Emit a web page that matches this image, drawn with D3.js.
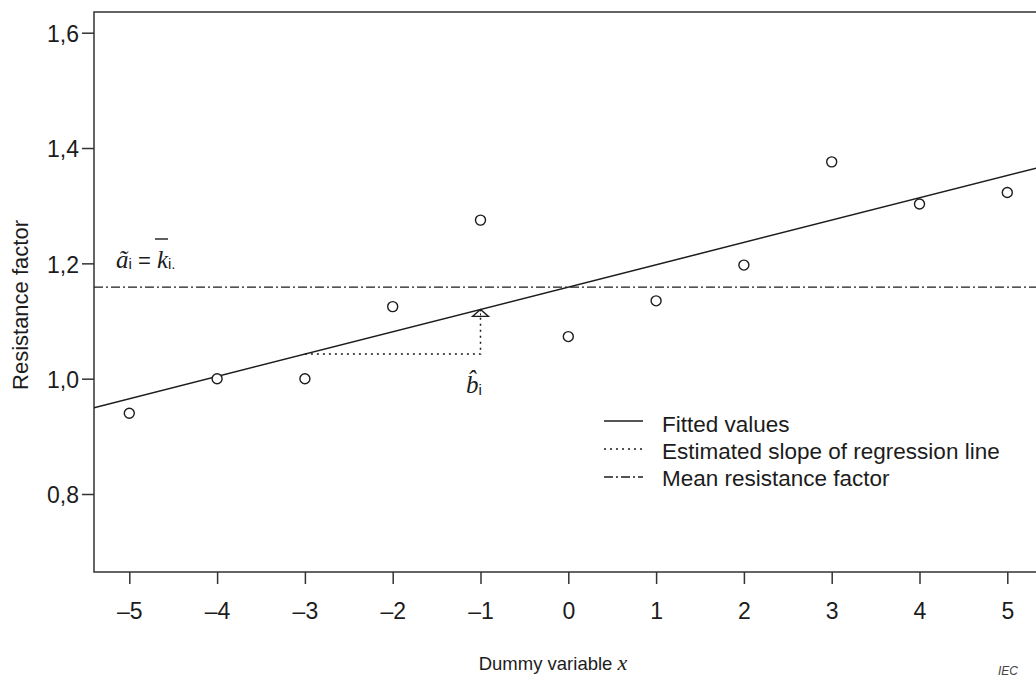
<!DOCTYPE html>
<html>
<head>
<meta charset="utf-8">
<script src="https://cdn.jsdelivr.net/npm/d3@7"></script>
<style>
  html, body { margin: 0; padding: 0; background: #fff; }
  svg { display: block; }
</style>
</head>
<body>
<svg id="chart" width="1036" height="677"></svg>
<script>
// ---- data ----
const xValues = [-5, -4, -3, -2, -1, 0, 1, 2, 3, 4, 5];
const resistanceFactor = [0.94, 1.00, 1.00, 1.125, 1.275, 1.073, 1.135, 1.197, 1.376, 1.303, 1.323];
const xTicks = [-5, -4, -3, -2, -1, 0, 1, 2, 3, 4, 5];
const yTicks = [0.8, 1.0, 1.2, 1.4, 1.6];
const slopeFrom = -3, slopeTo = -1;
const legendLabels = ["Fitted values", "Estimated slope of regression line", "Mean resistance factor"];
const xTitle = "Dummy variable ";
const yTitle = "Resistance factor";

// ---- derived: mean and least-squares line ----
const meanX = d3.mean(xValues), meanY = d3.mean(resistanceFactor);
const sxy = d3.sum(xValues, (x, i) => (x - meanX) * (resistanceFactor[i] - meanY));
const sxx = d3.sum(xValues, x => (x - meanX) ** 2);
const slope = sxy / sxx;
const intercept = meanY - slope * meanX;
const fit = x => intercept + slope * x;

// ---- layout ----
const svg = d3.select("#chart");
const plotLeft = 94, plotTop = 12, plotBottom = 572, plotRight = 1060;
const x = d3.scaleLinear().domain([-5, 5]).range([129.3, 1007.3]);
const y = d3.scaleLinear().domain([0.8, 1.6]).range([494, 32.7]);
const ink = "#1c1c1c";
const sans = "'Liberation Sans', Arial, Helvetica, sans-serif";
const serif = "'Liberation Serif', 'Times New Roman', serif";

svg.append("defs").append("clipPath").attr("id", "clip")
  .append("rect").attr("x", plotLeft).attr("y", plotTop)
  .attr("width", plotRight - plotLeft).attr("height", plotBottom - plotTop);

// frame
svg.append("path")
  .attr("d", `M${plotRight},${plotTop}H${plotLeft}V${plotBottom}H${plotRight}`)
  .attr("fill", "none").attr("stroke", "#333").attr("stroke-width", 1.5);

// y axis
const yAxis = svg.append("g").attr("transform", `translate(${plotLeft},0)`)
  .call(d3.axisLeft(y).tickValues(yTicks).tickSize(12).tickPadding(3)
    .tickFormat(d => d3.format(".1f")(d).replace(".", ",")));
yAxis.select(".domain").remove();
yAxis.selectAll(".tick line").attr("stroke", "#333").attr("stroke-width", 1.5);
yAxis.selectAll(".tick text").attr("font-family", sans).attr("font-size", 23)
  .attr("fill", ink).attr("dy", "0.38em");

// x axis
const xAxis = svg.append("g").attr("transform", `translate(0,${plotBottom})`)
  .call(d3.axisBottom(x).tickValues(xTicks).tickSize(12).tickPadding(19)
    .tickFormat(d => d < 0 ? "\u2013" + Math.abs(d) : String(d)));
xAxis.select(".domain").remove();
xAxis.selectAll(".tick line").attr("stroke", "#333").attr("stroke-width", 1.5);
xAxis.selectAll(".tick text").attr("font-family", sans).attr("font-size", 23)
  .attr("fill", ink);

const plot = svg.append("g").attr("clip-path", "url(#clip)");

// mean line
plot.append("line")
  .attr("x1", plotLeft).attr("x2", plotRight)
  .attr("y1", y(meanY)).attr("y2", y(meanY))
  .attr("stroke", ink).attr("stroke-width", 1.3)
  .attr("stroke-dasharray", "9,3,2,3");

// fitted line
const xLeft = x.invert(plotLeft), xRight = x.invert(plotRight);
plot.append("line")
  .attr("x1", x(xLeft)).attr("y1", y(fit(xLeft)))
  .attr("x2", x(xRight)).attr("y2", y(fit(xRight)))
  .attr("stroke", ink).attr("stroke-width", 1.5);

// slope annotation (dotted)
plot.append("path")
  .attr("d", `M${x(slopeFrom)},${y(fit(slopeFrom))}H${x(slopeTo)}V${y(fit(slopeTo)) + 7}`)
  .attr("fill", "none").attr("stroke", ink).attr("stroke-width", 1.5)
  .attr("stroke-dasharray", "2,4");
// small triangle marker on line
const tx = x(slopeTo), ty = y(fit(slopeTo));
plot.append("path")
  .attr("d", `M${tx},${ty}L${tx - 8},${ty + 7}H${tx + 8}Z`)
  .attr("fill", "none").attr("stroke", ink).attr("stroke-width", 1.3);
plot.append("line").attr("x1", tx).attr("x2", tx).attr("y1", ty).attr("y2", ty + 7)
  .attr("stroke", ink).attr("stroke-width", 1).attr("stroke-dasharray", "2,2");

// points
plot.selectAll("circle.pt").data(xValues).join("circle")
  .attr("class", "pt")
  .attr("cx", d => x(d)).attr("cy", (d, i) => y(resistanceFactor[i]))
  .attr("r", 5).attr("fill", "#fff").attr("stroke", ink).attr("stroke-width", 1.4);

// formula label: ã_i = k̄_i.
const f = svg.append("text").attr("x", 116).attr("y", 268).attr("fill", ink);
f.append("tspan").attr("font-family", serif).attr("font-style", "italic").attr("font-size", 25).text("\u00e3");
f.append("tspan").attr("font-family", sans).attr("font-size", 15).attr("dy", 1).text("i");
f.append("tspan").attr("font-family", sans).attr("font-size", 22).attr("dy", -1).text(" = ");
f.append("tspan").attr("font-family", serif).attr("font-style", "italic").attr("font-size", 25).text("k");
f.append("tspan").attr("font-family", sans).attr("font-size", 15).attr("dy", 1).text("i.");
svg.append("line").attr("x1", 155).attr("x2", 168).attr("y1", 239).attr("y2", 239)
  .attr("stroke", ink).attr("stroke-width", 1.4);

// b̂_i label
const b = svg.append("text").attr("x", 466).attr("y", 393).attr("fill", ink);
b.append("tspan").attr("font-family", serif).attr("font-style", "italic").attr("font-size", 25).text("b\u0302");
b.append("tspan").attr("font-family", sans).attr("font-size", 15).attr("dy", 2).text("i");

// legend
const legStyles = [null, "2,4", "9,3,2,3"];
const legRowY = [421, 449, 477];
const legTextY = [432, 459, 486];
legendLabels.forEach((lab, i) => {
  svg.append("line").attr("x1", 604).attr("x2", 643)
    .attr("y1", legRowY[i]).attr("y2", legRowY[i])
    .attr("stroke", ink).attr("stroke-width", i === 1 ? 1.5 : 1.3)
    .attr("stroke-dasharray", legStyles[i]);
  svg.append("text").attr("x", 662).attr("y", legTextY[i])
    .attr("font-family", sans).attr("font-size", 22.5).attr("fill", ink).text(lab);
});

// axis titles
svg.append("text")
  .attr("transform", `translate(28,305) rotate(-90)`)
  .attr("text-anchor", "middle").attr("font-family", sans).attr("font-size", 22)
  .attr("fill", ink).text(yTitle);
const xt = svg.append("text").attr("x", 553).attr("y", 670).attr("text-anchor", "middle").attr("fill", ink);
xt.append("tspan").attr("font-family", sans).attr("font-size", 18.5).text(xTitle);
xt.append("tspan").attr("font-family", serif).attr("font-style", "italic").attr("font-size", 22).text("x");

// source mark
svg.append("text").attr("x", 998).attr("y", 675).attr("font-family", sans)
  .attr("font-style", "italic").attr("font-size", 12).attr("fill", "#444").text("IEC");
</script>
</body>
</html>
